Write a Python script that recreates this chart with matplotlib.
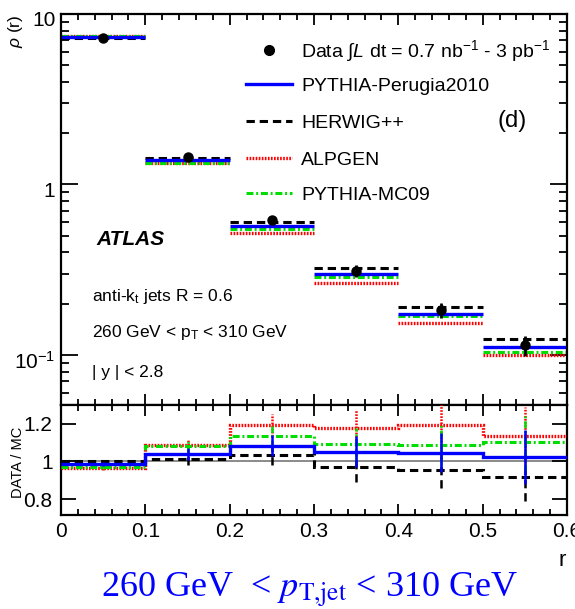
import numpy as np
import matplotlib
matplotlib.use("Agg")
import matplotlib.pyplot as plt
from matplotlib.lines import Line2D
from matplotlib.ticker import FixedLocator, MultipleLocator, NullFormatter, FixedFormatter
import matplotlib.transforms as mtransforms

# ---------------- data ----------------
bin_edges = [0.0, 0.1, 0.2, 0.3, 0.4, 0.5, 0.6]
data_rho = [7.2, 1.45, 0.62, 0.312, 0.183, 0.114]
data_rel_err = [0.01, 0.03, 0.05, 0.08, 0.10, 0.14]

perugia2010 = [7.30, 1.396, 0.572, 0.2966, 0.175, 0.1112]
herwigpp = [7.20, 1.431, 0.601, 0.3223, 0.1922, 0.1243]
alpgen = [7.46, 1.336, 0.520, 0.2649, 0.1535, 0.1006]
mc09 = [7.42, 1.343, 0.547, 0.2855, 0.1687, 0.1035]

legend_labels = [
    r"Data ∫$L$ dt = 0.7 nb$^{-1}$ - 3 pb$^{-1}$",
    "PYTHIA-Perugia2010",
    "HERWIG++",
    "ALPGEN",
    "PYTHIA-MC09",
]

# ---------------- style ----------------
SANS = ["Liberation Sans", "DejaVu Sans"]
plt.rcParams["font.family"] = SANS
plt.rcParams["mathtext.fontset"] = "custom"
plt.rcParams["mathtext.rm"] = "Liberation Sans"
plt.rcParams["mathtext.it"] = "Liberation Sans:italic"
plt.rcParams["mathtext.bf"] = "Liberation Sans:bold"
plt.rcParams["lines.scale_dashes"] = False

styles = {
    "perugia": dict(color="#0000ff", lw=2.4, ls="-"),
    "herwig": dict(color="black", lw=2.2, ls=(0, (6.0, 3.5))),
    "alpgen": dict(color="#ff0000", lw=2.4, ls=(0, (1.2, 1.0))),
    "mc09": dict(color="#00dd00", lw=2.2, ls=(0, (5.0, 2.0, 1.4, 2.0))),
}
models = [
    ("herwig", herwigpp),
    ("alpgen", alpgen),
    ("mc09", mc09),
    ("perugia", perugia2010),
]

edges = np.array(bin_edges)
centers = 0.5 * (edges[:-1] + edges[1:])
data = np.array(data_rho)
derr = data * np.array(data_rel_err)

W, H = 575, 609
fig = plt.figure(figsize=(W / 100, H / 100), dpi=100)

def px_axes(left, top, right, bottom):
    return fig.add_axes([left / W, 1 - bottom / H, (right - left) / W, (bottom - top) / H])

ax = px_axes(61, 14, 567, 405)
axr = px_axes(61, 405, 567, 515)

def fx(px):
    return px / W

def fy(py):
    return 1 - py / H

# ---------------- main panel ----------------
for name, vals in models:
    st = styles[name]
    ax.hlines(vals, edges[:-1], edges[1:], colors=st["color"], linewidth=st["lw"],
              linestyles=[st["ls"]], zorder=2)

ax.errorbar(centers, data, yerr=derr, fmt="o", color="black", ms=6.5,
            elinewidth=2.0, capsize=0, zorder=5)

ax.set_yscale("log")
ax.set_xlim(0, 0.6)
ax.set_ylim(0.0509, 10)
ax.yaxis.set_major_locator(FixedLocator([0.1, 1, 10]))
ax.yaxis.set_major_formatter(FixedFormatter([r"$10^{-1}$", "1", "10"]))
minor = [m * 10.0 ** e for e in (-2, -1, 0) for m in range(2, 10)]
ax.yaxis.set_minor_locator(FixedLocator(minor))
ax.yaxis.set_minor_formatter(NullFormatter())
ax.xaxis.set_major_locator(MultipleLocator(0.1))
ax.xaxis.set_minor_locator(MultipleLocator(0.02))
ax.tick_params(axis="x", which="both", labelbottom=False)

for a in (ax, axr):
    a.tick_params(which="both", direction="in", top=True, right=True, width=1.3)
    a.tick_params(axis="x", which="major", length=8)
    a.tick_params(axis="x", which="minor", length=4)
    for sp in a.spines.values():
        sp.set_linewidth(1.6)

ax.tick_params(axis="y", which="major", length=12, pad=4, labelsize=15)
ax.tick_params(axis="y", which="minor", length=6)
shift = mtransforms.ScaledTranslation(0, -5 / 100, fig.dpi_scale_trans)
for lab in ax.get_yticklabels():
    lab.set_transform(lab.get_transform() + shift)

ax.text(-0.09, 0.955, r"$\rho$ (r)", transform=ax.transAxes, rotation=90,
        fontsize=12.5, ha="center", va="center")

# legend: key samples and labels, one row each
legend_rows_px = [50, 84, 121, 158, 193]
key_x0, key_x1, label_x = 246, 292, 301
legend_fs = 14
cap_px = 0.72 * legend_fs * 100 / 72
for i, (label, ypx) in enumerate(zip(legend_labels, legend_rows_px)):
    if i == 0:
        key = Line2D([fx(0.5 * (key_x0 + key_x1))], [fy(ypx)], marker="o", ls="none",
                     color="black", ms=7, transform=fig.transFigure)
    else:
        st = styles[("perugia", "herwig", "alpgen", "mc09")[i - 1]]
        key = Line2D([fx(key_x0), fx(key_x1)], [fy(ypx), fy(ypx)], color=st["color"],
                     lw=st["lw"], ls=st["ls"], transform=fig.transFigure)
    fig.add_artist(key)
    fig.text(fx(label_x), fy(ypx + cap_px / 2), label, fontsize=legend_fs,
             ha="left", va="baseline")

ax.text((512 - 61) / 506, 1 - (121 - 14) / 391, "(d)", transform=ax.transAxes,
        fontsize=17, ha="center", va="center")

ax.text((96 - 61) / 506, 1 - (240 - 14) / 391, "ATLAS", transform=ax.transAxes,
        fontsize=15, fontweight="bold", fontstyle="italic", ha="left", va="center")
info = [r"anti-k$_{\mathrm{t}}$ jets R = 0.6",
        r"260 GeV < p$_{\mathrm{T}}$ < 310 GeV",
        r"| y | < 2.8"]
for txt, ypx in zip(info, (297, 333, 372)):
    ax.text((92 - 61) / 506, 1 - (ypx - 14) / 391, txt, transform=ax.transAxes,
            fontsize=12.5, ha="left", va="center")

# ---------------- ratio panel ----------------
axr.axhline(1.0, color="#777777", lw=1.2, zorder=1)
for name, vals in models:
    st = styles[name]
    ratio = data / np.array(vals)
    rerr = ratio * np.array(data_rel_err)
    axr.stairs(ratio, edges, color=st["color"], linewidth=st["lw"],
               linestyle=st["ls"], baseline=None, zorder=3)
    eb = axr.errorbar(centers, ratio, yerr=rerr, fmt="none", ecolor=st["color"],
                      elinewidth=1.8, capsize=0, zorder=3)
    for coll in eb[2]:
        coll.set_linestyle(st["ls"])

axr.set_xlim(0, 0.6)
axr.set_ylim(0.715, 1.30)
axr.yaxis.set_major_locator(FixedLocator([0.8, 1.0, 1.2]))
axr.yaxis.set_major_formatter(FixedFormatter(["0.8", "1", "1.2"]))
axr.xaxis.set_major_locator(MultipleLocator(0.1))
axr.xaxis.set_minor_locator(MultipleLocator(0.02))
axr.xaxis.set_major_formatter(plt.FuncFormatter(lambda v, p: "0" if abs(v) < 1e-9 else f"{v:.1f}"))
axr.tick_params(axis="y", which="major", length=11, pad=6, labelsize=15)
axr.tick_params(axis="x", which="major", labelsize=15, pad=5)

axr.text(-0.085, 0.48, "DATA / MC", transform=axr.transAxes, rotation=90,
         fontsize=10.5, ha="center", va="center")
fig.text(562 / W, 1 - 560 / H, "r", fontsize=16, ha="center", va="center")

fig.text(310 / W, 1 - 590 / H, r"260 GeV  < $p_{\mathrm{T{,}jet}}$ < 310 GeV",
         fontsize=26, color="#0000ff", ha="center", va="center",
         family="Liberation Serif", math_fontfamily="stix")

fig.savefig("out.png", dpi=100)
